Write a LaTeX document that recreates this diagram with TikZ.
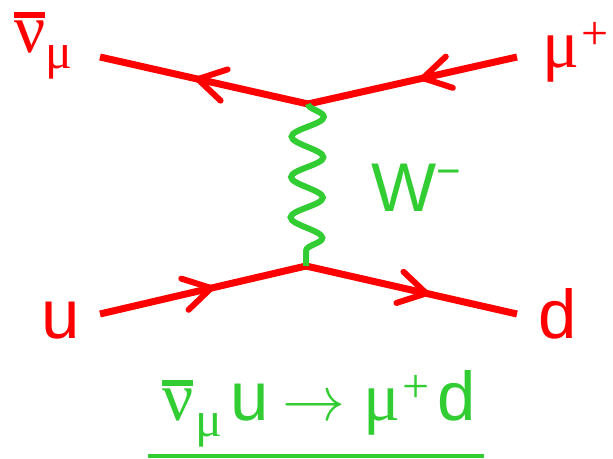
\RequirePackage{fix-cm}
\documentclass[tikz,border=0pt]{standalone}
\usepackage{fontspec}
\setmainfont{Liberation Sans}
\newfontfamily\gregfont[Scale=1.0]{Liberation Serif}
\usetikzlibrary{decorations.pathmorphing,decorations.markings}
\definecolor{vermelho}{RGB}{255,0,0}
\definecolor{verde}{RGB}{50,205,50}
\newcommand{\grego}[1]{{\gregfont #1}}
\newcommand{\barra}[1]{\leavevmode\setbox0\hbox{#1}\rlap{\rule[\dimexpr\ht0+2pt\relax]{\wd0}{6pt}}\box0}
\newcommand{\subsc}[1]{\raisebox{-16pt}{\fontsize{50}{54}\selectfont #1}}
\newcommand{\supsc}[1]{\raisebox{18pt}{\fontsize{48}{52}\selectfont #1}}
\begin{document}
\begin{tikzpicture}[
        x=1pt, y=-1pt,
        every node/.style={font=\fontsize{69}{80}\selectfont},
        fermiao/.style={line width=7pt, vermelho},
        bosao/.style={line width=6pt, verde, decorate,
            decoration={snake, amplitude=16pt, segment length=40.4pt}},
        seta/.style={postaction={decorate}, decoration={markings,
            mark=at position #1 with {\draw[line width=6pt, vermelho, line cap=round, line join=round]
                (-27pt,16pt) -- (0pt,0pt) -- (-27pt,-16pt);}}},
        rotulo/.style={inner sep=0pt, anchor=base west}
    ]
        \useasboundingbox (0,0) rectangle (613,458);

        % Vertices e pontas das linhas
        \coordinate (vsup) at (308,104);
        \coordinate (vinf) at (306,266);
        \coordinate (nu) at (100,57);
        \coordinate (mu) at (517,57);
        \coordinate (u) at (100,314);
        \coordinate (d) at (517,314);

        % Linhas de fermioes
        \draw[fermiao, seta=0.53] (vsup) -- (nu);
        \draw[fermiao, seta=0.45] (mu) -- (vsup);
        \draw[fermiao, seta=0.54] (u) -- (vinf);
        \draw[fermiao, seta=0.57] (vinf) -- (d);

        % Bosao W
        \draw[bosao] (vsup) -- (vinf);

        % Rotulos
        \node[rotulo, vermelho] (lnu) at (14,52) {\barra{\grego{ν}}\subsc{\grego{μ}}};
        \node[rotulo, vermelho] (lmu) at (542,67) {\grego{μ}\hspace{2pt}\supsc{\grego{+}}};
        \node[rotulo, vermelho] (lu) at (41,338) {u};
        \node[rotulo, vermelho] (ld) at (538,338) {d};
        \node[rotulo, verde] (lw) at (371,211) {W\raisebox{26pt}{\fontsize{42}{46}\selectfont −}};

        % Reacao
        \node[rotulo, verde] (reacao) at (162,420) {\barra{\grego{ν}}\hspace{2pt}\subsc{\grego{μ}}\hspace{8pt}u\hspace{14pt}{\fontsize{63}{66}\selectfont$\rightarrow$}\hspace{18pt}\grego{μ}\hspace{2pt}\supsc{\grego{+}}\hspace{8pt}d};
        \coordinate (sub1) at (148,456);
        \coordinate (sub2) at (484,456);
        \draw[verde, line width=4pt] (sub1) -- (sub2);

    \end{tikzpicture}
\end{document}
